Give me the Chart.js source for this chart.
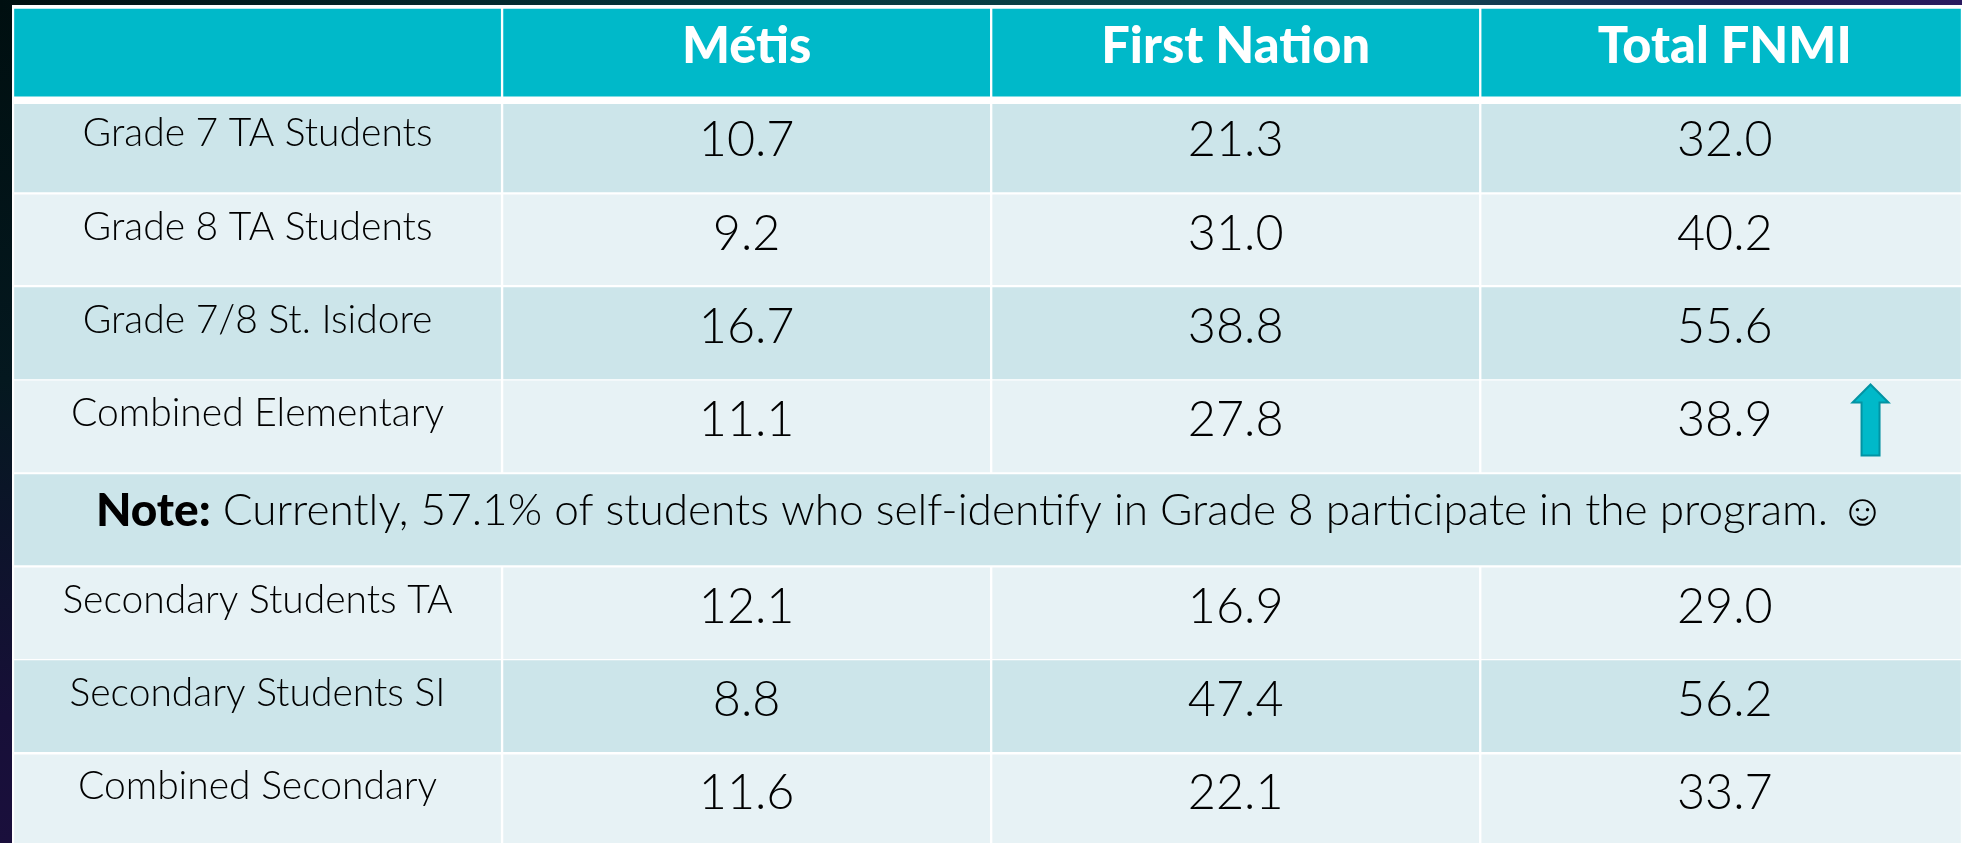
<!DOCTYPE html>
<html>
<head>
<meta charset="utf-8">
<title>FNMI table</title>
<script src="https://cdn.jsdelivr.net/npm/chart.js@4"></script>
<style>
  html, body { margin: 0; height: 843px; overflow: hidden; }
  body {
    background:
      linear-gradient(90deg, #000f10 0%, #03343a 35%, #0e4a50 70%, #1a2050 88%, #2a1a60 100%) top / 100% 12px no-repeat,
      linear-gradient(180deg, #000f10 0%, #04181f 45%, #170f38 85%, #1a0f3c 100%);
  }
  #box { position: absolute; left: 0; top: 0; width: 1962px; height: 846px; }
</style>
</head>
<body>
<div id="box"><canvas id="tableChart"></canvas></div>
<script>
const headerRow = 'Header';
const noteRow = 'Note';
const rowNames = ['Grade 7 TA Students', 'Grade 8 TA Students', 'Grade 7/8 St. Isidore', 'Combined Elementary',
  noteRow, 'Secondary Students TA', 'Secondary Students SI', 'Combined Secondary'];
const columnNames = ['', 'Métis', 'First Nation', 'Total FNMI'];
const metis = [10.7, 9.2, 16.7, 11.1, null, 12.1, 8.8, 11.6];
const firstNation = [21.3, 31.0, 38.8, 27.8, null, 16.9, 47.4, 22.1];
const totalFnmi = [32.0, 40.2, 55.6, 38.9, null, 29.0, 56.2, 33.7];
const noteBold = 'Note:';
const noteText = ' Currently, 57.1% of students who self-identify in Grade 8 participate in the program. ☺';
const arrowRow = 'Combined Elementary';
const arrowColumn = 3.798;

const allRows = [headerRow, ...rowNames];
const valueColumns = [metis, firstNation, totalFnmi];
const columnEnd = 3.985; // table runs off the right edge

const teal = '#00b9c9';
const darkRow = '#cce5ea';
const lightRow = '#e7f2f5';
const rowColors = [teal, darkRow, lightRow, darkRow, lightRow, darkRow, lightRow, darkRow, lightRow];

// white line widths above / below each cell, rows are not quite even in the picture
const rowTop = [2, 4, 1.5, 1, 1, 1.5, 1.5, 1, 2];
const rowBottom = [4, 1.5, 2, 1, 1.25, 1.5, 1, 1, 0];

const cellBorder = ctx => ({ top: rowTop[ctx.dataIndex], bottom: rowBottom[ctx.dataIndex], left: 1.5, right: 1.5 });

function columnDataset(col) {
  return {
    label: columnNames[col] || 'Row',
    data: allRows.map(r => (r === noteRow ? null : [col, Math.min(col + 1, columnEnd)])),
    backgroundColor: rowColors,
    borderColor: '#ffffff',
    borderWidth: cellBorder,
    borderSkipped: false,
    borderRadius: 0
  };
}

const datasets = columnNames.map((_, col) => columnDataset(col));
datasets.push({
  label: noteRow,
  data: allRows.map(r => (r === noteRow ? [0, columnEnd] : null)),
  backgroundColor: rowColors,
  borderColor: '#ffffff',
  borderWidth: cellBorder,
  borderSkipped: false
});

const sansFont = 'Lato, "DejaVu Sans", sans-serif';

// white sheet under the cells, the gaps between bars show it as table lines
const sheetPlugin = {
  id: 'sheet',
  beforeDatasetsDraw(chart) {
    const { ctx, chartArea } = chart;
    ctx.save();
    ctx.fillStyle = '#ffffff';
    ctx.fillRect(chartArea.left - 1, chartArea.top - 2, chartArea.width + 1, chartArea.height + 2);
    ctx.restore();
  }
};

// cell texts and the arrow, placed through the scales
const textPlugin = {
  id: 'cellText',
  afterDatasetsDraw(chart) {
    const { ctx, scales: { x, y } } = chart;
    ctx.save();
    ctx.textAlign = 'center';
    ctx.textBaseline = 'middle';

    ctx.fillStyle = '#ffffff';
    ctx.font = '900 50.5px ' + sansFont;
    columnNames.forEach((name, col) => {
      ctx.fillText(name, x.getPixelForValue(col + 0.5), y.getPixelForValue(0) - 7);
    });

    ctx.fillStyle = '#000000';
    ctx.font = '300 39px ' + sansFont;
    rowNames.forEach((name, i) => {
      if (name === noteRow) return;
      ctx.fillText(name, x.getPixelForValue(0.5), y.getPixelForValue(i + 1) - 13);
    });

    ctx.font = '300 48.5px ' + sansFont;
    valueColumns.forEach((values, c) => {
      values.forEach((v, i) => {
        if (v === null) return;
        ctx.fillText(v.toFixed(1), x.getPixelForValue(c + 1.5), y.getPixelForValue(i + 1) - 6);
      });
    });

    // note line: bold lead-in, then the plain text, centred together
    const noteY = y.getPixelForValue(allRows.indexOf(noteRow)) - 9;
    ctx.textAlign = 'left';
    ctx.font = '900 46px ' + sansFont;
    const boldW = ctx.measureText(noteBold).width;
    ctx.font = '300 44.2px ' + sansFont;
    const textW = ctx.measureText(noteText).width;
    let noteX = 990.5 - (boldW + textW) / 2;
    ctx.font = '900 46px ' + sansFont;
    ctx.fillText(noteBold, noteX, noteY);
    ctx.font = '300 44.2px ' + sansFont;
    ctx.fillText(noteText, noteX + boldW, noteY);

    // up arrow
    const ax = x.getPixelForValue(arrowColumn);
    const ay = y.getPixelForValue(allRows.indexOf(arrowRow));
    ctx.beginPath();
    ctx.moveTo(ax, ay - 42);
    ctx.lineTo(ax + 18, ay - 24);
    ctx.lineTo(ax + 9, ay - 24);
    ctx.lineTo(ax + 9, ay + 29);
    ctx.lineTo(ax - 9, ay + 29);
    ctx.lineTo(ax - 9, ay - 24);
    ctx.lineTo(ax - 18, ay - 24);
    ctx.closePath();
    ctx.fillStyle = teal;
    ctx.strokeStyle = '#0293a3';
    ctx.lineWidth = 2;
    ctx.fill();
    ctx.stroke();
    ctx.restore();
  }
};

new Chart(document.getElementById('tableChart'), {
  type: 'bar',
  data: { labels: allRows, datasets },
  options: {
    responsive: true,
    maintainAspectRatio: false,
    animation: false,
    indexAxis: 'y',
    grouped: false,
    barPercentage: 1,
    categoryPercentage: 1,
    layout: { padding: { left: 13, top: 7, right: 0, bottom: 0 } },
    scales: {
      x: { type: 'linear', min: 0, max: columnEnd, display: false },
      y: { type: 'category', display: false }
    },
    plugins: { legend: { display: false }, tooltip: { enabled: false } }
  },
  plugins: [sheetPlugin, textPlugin]
});
</script>
</body>
</html>
